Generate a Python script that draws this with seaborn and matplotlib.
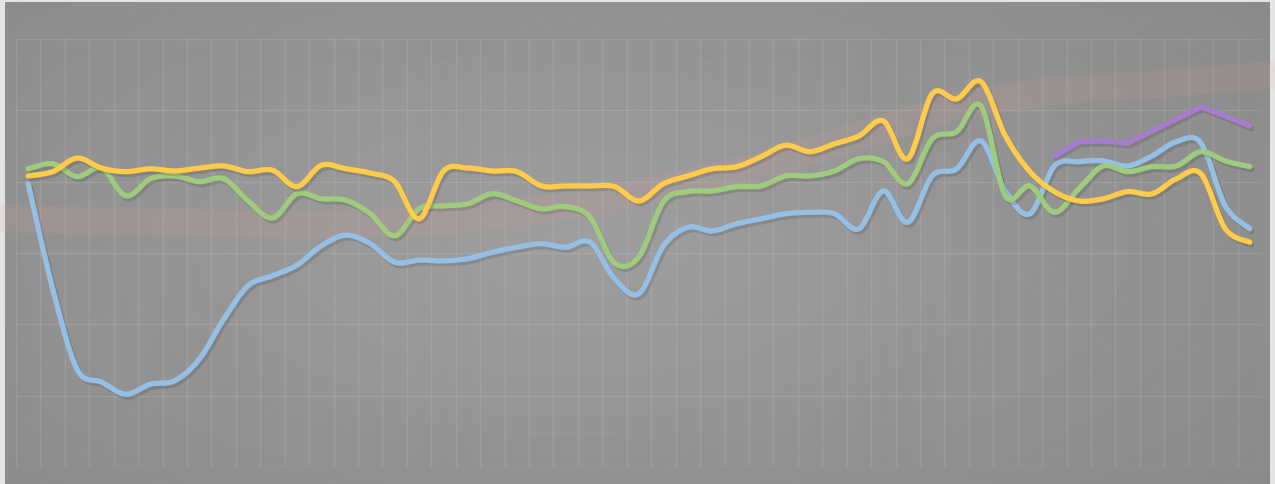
import numpy as np
import matplotlib
matplotlib.use('Agg')
import matplotlib.pyplot as plt
import matplotlib.patheffects as pe
from matplotlib.path import Path
from matplotlib.patches import PathPatch
import seaborn as sns

# Data (units = grid steps, 0..6)
periods = list(range(1, 52))

blue = [3.97, 2.50, 1.37, 1.19, 1.02, 1.16, 1.21, 1.51, 2.07, 2.54,
        2.68, 2.83, 3.10, 3.25, 3.13, 2.87, 2.90, 2.89, 2.92, 3.01,
        3.08, 3.13, 3.08, 3.15, 2.64, 2.43, 3.10, 3.36, 3.31, 3.41,
        3.48, 3.55, 3.57, 3.55, 3.34, 3.87, 3.43, 4.08, 4.18, 4.57,
        3.87, 3.55, 4.22, 4.28, 4.29, 4.22, 4.36, 4.56, 4.54, 3.66,
        3.34]

green = [4.18, 4.25, 4.07, 4.19, 3.80, 4.04, 4.08, 4.00, 4.04, 3.73,
         3.49, 3.83, 3.76, 3.74, 3.55, 3.24, 3.62, 3.66, 3.69, 3.83,
         3.73, 3.62, 3.65, 3.50, 2.86, 2.95, 3.72, 3.86, 3.87, 3.93,
         3.94, 4.08, 4.08, 4.15, 4.32, 4.28, 3.97, 4.60, 4.70, 5.06,
         3.80, 3.94, 3.57, 3.90, 4.22, 4.14, 4.21, 4.22, 4.42, 4.29,
         4.21]

yellow = [4.08, 4.14, 4.33, 4.19, 4.14, 4.18, 4.15, 4.19, 4.22, 4.14,
          4.16, 3.93, 4.23, 4.18, 4.12, 4.00, 3.48, 4.15, 4.19, 4.15,
          4.14, 3.94, 3.94, 3.94, 3.93, 3.73, 3.97, 4.08, 4.18, 4.21,
          4.35, 4.51, 4.42, 4.53, 4.64, 4.85, 4.32, 5.23, 5.16, 5.40,
          4.64, 4.14, 3.86, 3.73, 3.76, 3.86, 3.83, 4.04, 4.11, 3.34,
          3.15]

purple_periods = list(range(43, 52))
purple = [4.36, 4.56, 4.57, 4.54, 4.71, 4.88, 5.05, 4.92, 4.78]

# faint pink glow band behind the lines
glow_x = [-0.15, 12.13, 18.27, 22.37, 26.46, 30.55, 34.65, 38.74, 42.83, 46.93, 52.04]
glow_y = [3.48, 3.39, 3.45, 3.62, 3.87, 4.18, 4.60, 5.05, 5.27, 5.36, 5.50]

c_blue = '#95c0e6'
c_green = '#9fcb7d'
c_yellow = '#ffcb4a'
c_purple = '#a67dcc'


def smooth_path(xs, ys):
    # Excel-style smoothed line: cubic Bezier through the points
    pts = np.column_stack([xs, ys]).astype(float)
    p = np.vstack([pts[0], pts, pts[-1]])
    verts = [pts[0]]
    codes = [Path.MOVETO]
    for i in range(1, len(p) - 2):
        c1 = p[i] + (p[i + 1] - p[i - 1]) / 6
        c2 = p[i + 1] - (p[i + 2] - p[i]) / 6
        verts += [c1, c2, p[i + 1]]
        codes += [Path.CURVE4] * 3
    return Path(verts, codes)


sns.set_style('white')

fig = plt.figure(figsize=(12.75, 4.85), dpi=100, facecolor='#e4e4e4')

# gray gradient background
bg = fig.add_axes([5 / 1275, 0, 1265 / 1275, 482 / 485])
yy, xx = np.mgrid[0:1:200j, 0:1:400j]
r = np.sqrt(((xx - 0.45) / 0.75) ** 2 + ((yy - 0.5) / 0.9) ** 2)
bg.imshow(0.62 - 0.085 * r, cmap='gray', vmin=0, vmax=1, aspect='auto',
          extent=[0, 1, 0, 1], origin='lower')
bg.axis('off')

ax = fig.add_axes([16 / 1275, 17 / 485, 1246 / 1275, 428 / 485])
ax.set_facecolor('none')
ax.set_xlim(0.5, 51.5)
ax.set_ylim(0, 6)
ax.set_xticks(np.arange(0.5, 52, 1))
ax.set_yticks(range(7))
ax.grid(True, color='white', alpha=0.1, linewidth=1)
ax.tick_params(length=0, labelbottom=False, labelleft=False)
for s in ax.spines.values():
    s.set_visible(False)

ax.plot(glow_x, glow_y, color='#e89a9a', alpha=0.13, linewidth=20,
        solid_capstyle='butt', clip_on=False, zorder=1)

shadow = [pe.SimpleLineShadow(offset=(1.5, -2), shadow_color='black', alpha=0.12),
          pe.Normal()]

for vals, col in [(blue, c_blue), (green, c_green), (yellow, c_yellow)]:
    patch = PathPatch(smooth_path(periods, vals), facecolor='none', edgecolor=col,
                      linewidth=3.8, capstyle='round', joinstyle='round', zorder=3)
    patch.set_path_effects(shadow)
    ax.add_patch(patch)

sns.lineplot(x=purple_periods, y=purple, color=c_purple, linewidth=3.8, ax=ax,
             zorder=3, path_effects=shadow)

fig.savefig('out.png', dpi=100, facecolor=fig.get_facecolor())
